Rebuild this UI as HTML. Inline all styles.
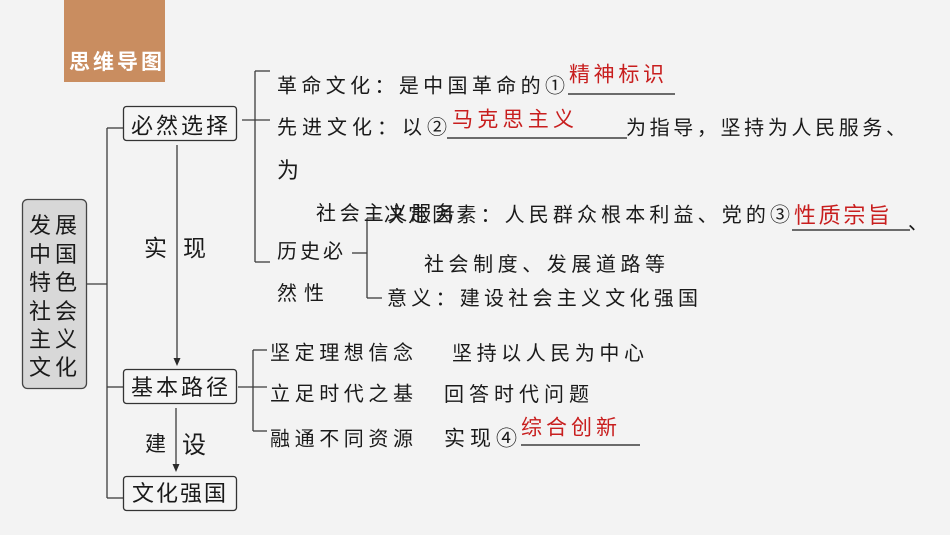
<!DOCTYPE html>
<html><head><meta charset="utf-8"><style>
html,body{margin:0;padding:0;background:#f3f3f3;}
svg{display:block;}
text{font-family:"Liberation Sans","Noto Sans CJK SC",sans-serif;fill:#1a1a1a;}
.r{fill:#c81e1e;}
</style></head><body>
<svg width="950" height="535" viewBox="0 0 950 535" xmlns="http://www.w3.org/2000/svg">
<rect x="0" y="0" width="950" height="535" fill="#f3f3f3"/>
<!-- title tab -->
<rect x="64" y="0" width="101" height="82" fill="#c98d60"/>
<text x="69" y="69" font-size="21" font-weight="bold" textLength="93" lengthAdjust="spacing" style="fill:#fff">思维导图</text>

<g stroke="#3c3c3c" stroke-width="1.3" fill="none">
<!-- main trunk -->
<line x1="87" y1="284" x2="107" y2="284"/>
<line x1="107" y1="128" x2="107" y2="498"/>
<line x1="107" y1="128" x2="123" y2="128"/>
<line x1="107" y1="387" x2="123" y2="387"/>
<line x1="107" y1="498" x2="123" y2="498"/>
<!-- bracket 1 -->
<line x1="242" y1="120" x2="270" y2="120"/>
<line x1="255" y1="71" x2="255" y2="262"/>
<line x1="255" y1="71" x2="270" y2="71"/>
<line x1="255" y1="262" x2="270" y2="262"/>
<!-- sub bracket -->
<line x1="352" y1="253" x2="367" y2="253"/>
<line x1="367" y1="218" x2="367" y2="298"/>
<line x1="367" y1="218" x2="380" y2="218"/>
<line x1="367" y1="298" x2="382" y2="298"/>
<!-- bracket 2 -->
<line x1="238" y1="387" x2="267" y2="387"/>
<line x1="253" y1="350" x2="253" y2="431"/>
<line x1="253" y1="350" x2="267" y2="350"/>
<line x1="253" y1="431" x2="267" y2="431"/>
<!-- arrows -->
<line x1="177" y1="145" x2="177" y2="360"/>
<line x1="176" y1="408" x2="176" y2="466"/>
</g>
<polygon points="173.5,358 180.5,358 177,366" fill="#2a2a2a"/>
<polygon points="172.5,464 179.5,464 176,472" fill="#2a2a2a"/>

<!-- underlines -->
<g stroke="#1a1a1a" stroke-width="1.3">
<line x1="568" y1="94" x2="675" y2="94"/>
<line x1="447" y1="138" x2="627" y2="138"/>
<line x1="792" y1="230" x2="910" y2="230"/>
<line x1="521" y1="445" x2="640" y2="445"/>
</g>

<!-- boxes -->
<rect x="22.5" y="199.5" width="64" height="189" rx="5" fill="#d8d8d8" stroke="#444" stroke-width="1.3"/>
<rect x="123.5" y="106.5" width="113" height="34" rx="3" fill="#f5f5f5" stroke="#333" stroke-width="1.3"/>
<rect x="123.5" y="369.5" width="113" height="34" rx="3" fill="#f5f5f5" stroke="#333" stroke-width="1.3"/>
<rect x="123.5" y="476.5" width="113" height="34" rx="3" fill="#f5f5f5" stroke="#333" stroke-width="1.3"/>

<!-- box texts -->
<text x="131" y="133.5" font-size="22" textLength="97" lengthAdjust="spacing">必然选择</text>
<text x="131" y="395" font-size="22" textLength="97" lengthAdjust="spacing">基本路径</text>
<text x="132" y="501" font-size="22" textLength="94" lengthAdjust="spacing">文化强国</text>

<g font-size="22">
<text x="29" y="233" textLength="48" lengthAdjust="spacing">发展</text>
<text x="29" y="262" textLength="48" lengthAdjust="spacing">中国</text>
<text x="29" y="290" textLength="48" lengthAdjust="spacing">特色</text>
<text x="29" y="319" textLength="48" lengthAdjust="spacing">社会</text>
<text x="29" y="347" textLength="48" lengthAdjust="spacing">主义</text>
<text x="29" y="375" textLength="48" lengthAdjust="spacing">文化</text>
</g>

<!-- arrow labels -->
<text x="144" y="256" font-size="23">实</text>
<text x="183" y="256" font-size="23">现</text>
<text x="145" y="451" font-size="21">建</text>
<text x="182" y="453" font-size="24">设</text>

<!-- right column -->
<g font-size="20">
<text x="277" y="92.5" textLength="288" lengthAdjust="spacing">革命文化：是中国革命的①</text>
<text x="277" y="134" textLength="170" lengthAdjust="spacing">先进文化：以②</text>
<text x="626" y="134.5" textLength="280" lengthAdjust="spacing">为指导，坚持为人民服务、</text>
<text x="277" y="178" font-size="22">为</text>
<text x="316" y="220" textLength="139" lengthAdjust="spacing">社会主义服务</text>
<text x="384" y="221.5" textLength="406" lengthAdjust="spacing">决定因素：人民群众根本利益、党的③</text>
<text x="908" y="229">、</text>
<text x="277" y="258" textLength="66" lengthAdjust="spacing">历史必</text>
<text x="277" y="300" textLength="47" lengthAdjust="spacing">然性</text>
<text x="424" y="271" textLength="241" lengthAdjust="spacing">社会制度、发展道路等</text>
<text x="387" y="305" textLength="311" lengthAdjust="spacing">意义：建设社会主义文化强国</text>

<text x="270" y="359.5" textLength="143" lengthAdjust="spacing">坚定理想信念</text>
<text x="452" y="360" textLength="192" lengthAdjust="spacing">坚持以人民为中心</text>
<text x="270" y="400.5" textLength="143" lengthAdjust="spacing">立足时代之基</text>
<text x="444" y="401" textLength="145" lengthAdjust="spacing">回答时代问题</text>
<text x="270" y="445.5" textLength="143" lengthAdjust="spacing">融通不同资源</text>
<text x="444" y="445.5" font-size="21" textLength="73" lengthAdjust="spacing">实现④</text>
</g>

<!-- red answers -->
<g font-size="21">
<text class="r" x="569" y="81.5" textLength="95" lengthAdjust="spacing">精神标识</text>
<text class="r" x="452" y="126.5" textLength="122" lengthAdjust="spacing">马克思主义</text>
<text class="r" x="794" y="223" font-size="22" textLength="96" lengthAdjust="spacing">性质宗旨</text>
<text class="r" x="521" y="434.5" textLength="96" lengthAdjust="spacing">综合创新</text>
</g>
</svg>
</body></html>
